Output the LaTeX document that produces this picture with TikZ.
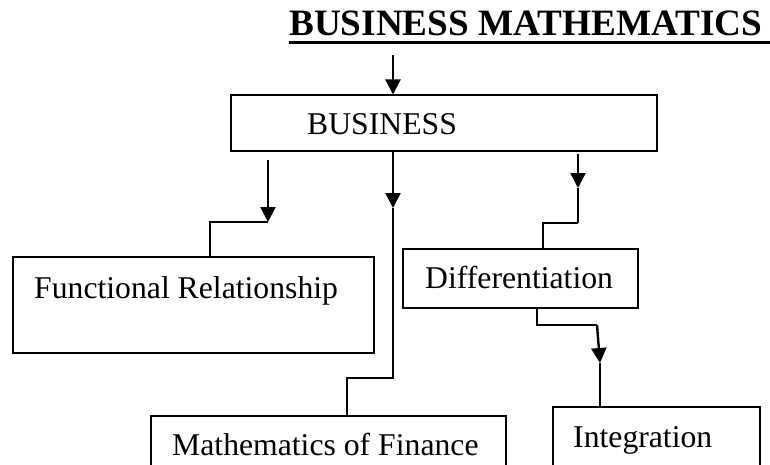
\documentclass[tikz,border=0pt]{standalone}
\usepackage{fontspec}
\setmainfont{Liberation Serif}
\usetikzlibrary{arrows.meta,positioning}

\begin{document}
\begin{tikzpicture}[x=1pt, y=-1pt,
    box/.style={draw, line width=1.1pt, inner sep=0pt},
    boxtext/.style={font=\fontsize{31.7}{38}\selectfont, inner sep=0pt, anchor=base west},
    arr/.style={-{Triangle[length=15pt,width=15pt]}, line width=2.4pt},
    link/.style={line width=1.2pt},
  ]
  \clip (0,0) rectangle (770,464);

  % ========= TITLE =========
  \node[font=\fontsize{37.2}{44}\selectfont\bfseries, inner sep=0pt, anchor=base west] (title) at (289,35) {BUSINESS MATHEMATICS};
  \draw[line width=3pt] ([yshift=-7pt]title.base west) -- ++(481,0);

  % ========= BOXES =========
  \node[box, minimum width=426pt, minimum height=56pt] (biz) at (444,123) {};
  \node[boxtext] (biztxt) at (307,134) {BUSINESS};

  \node[box, minimum width=361pt, minimum height=96pt] (func) at (193.5,305) {};
  \node[boxtext] (functxt) at (34,298) {Functional Relationship};

  \node[box, minimum width=235pt, minimum height=59pt] (diff) at (520.5,278.5) {};
  \node[boxtext] (difftxt) at (425,288) {Differentiation};

  \node[box, minimum width=355pt, minimum height=100pt] (fin) at (328.5,466) {};
  \node[boxtext] (fintxt) at (172,455) {Mathematics of Finance};

  \node[box, minimum width=207pt, minimum height=100pt] (integ) at (656.5,457) {};
  \node[boxtext] (integtxt) at (573,447) {Integration};

  % ========= CONNECTORS =========
  % title -> business
  \coordinate (in) at (393,55);
  \draw[arr] (in) -- (in |- biz.north);

  % business -> functional relationship
  \coordinate (a1) at (268,160);
  \coordinate (a2) at (268,222);
  \draw[arr] (a1) -- (a2);
  \draw[link] (a2) -| ([xshift=16.5pt]func.north);

  % business -> mathematics of finance
  \coordinate (b1) at (393,208);
  \coordinate (b2) at (393,378);
  \draw[arr] (biz.south -| b1) -- (b1);
  \draw[link] (b1) -- (b2) -| ([xshift=18.5pt]fin.north);

  % business -> differentiation
  \coordinate (c1) at (578,188);
  \coordinate (c2) at (578,223);
  \draw[arr] ([yshift=-2pt]biz.south -| c1) -- (c1);
  \draw[line width=2pt] (c1) -- (c2);
  \draw[link] (c2) -| ([xshift=22.5pt]diff.north);

  % differentiation -> integration
  \coordinate (d1) at (537,325);
  \coordinate (d2) at (597,325);
  \coordinate (d3) at (600,363);
  \draw[link] ([xshift=16.5pt]diff.south) -- (d1) -- (d2);
  \draw[arr] (d2) -- (d3);
  \draw[line width=2pt] (d3) -- (d3 |- integ.north);
\end{tikzpicture}
\end{document}
